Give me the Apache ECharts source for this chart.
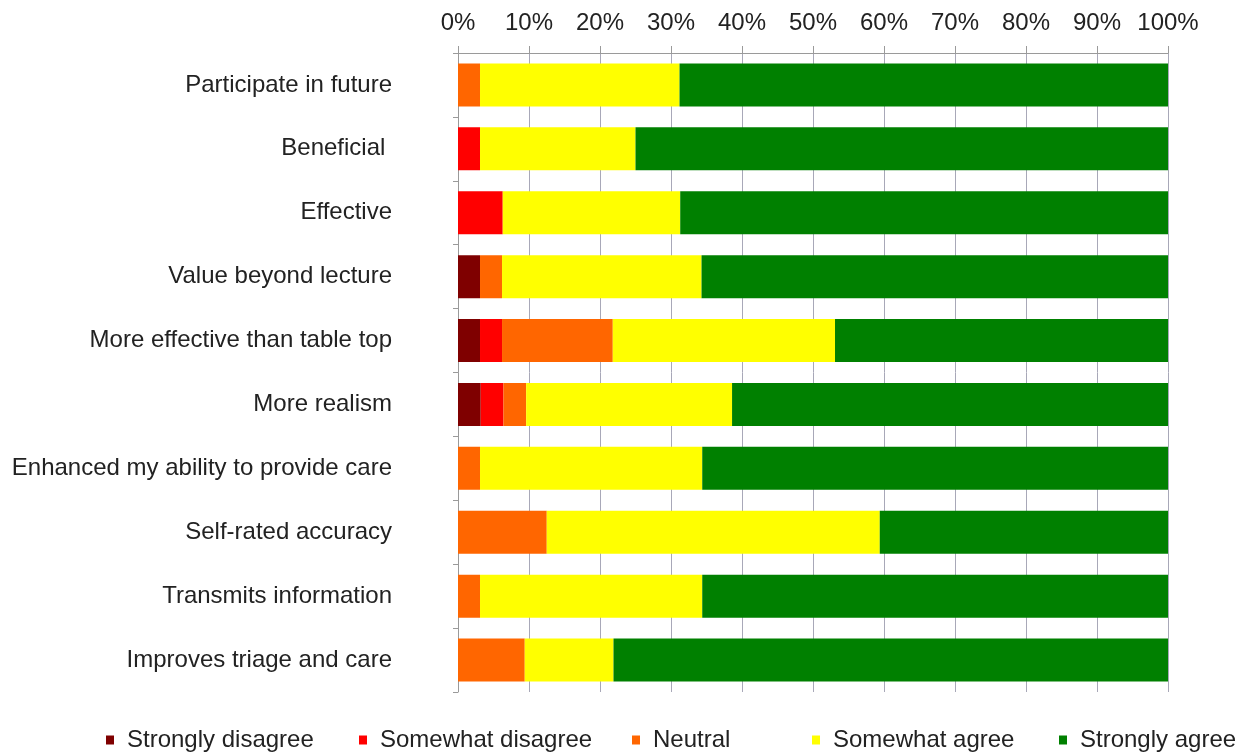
<!DOCTYPE html>
<html>
<head>
<meta charset="utf-8">
<script src="https://cdn.jsdelivr.net/npm/echarts@6/dist/echarts.min.js"></script>
<style>html,body{margin:0;padding:0;background:#fff;}#c{width:1243px;height:753px;}</style>
</head>
<body>
<div id="c"></div>
<script>
var categories = ["Participate in future", "Beneficial ", "Effective", "Value beyond lecture", "More effective than table top", "More realism", "Enhanced my ability to provide care", "Self-rated accuracy", "Transmits information", "Improves triage and care"];
var seriesNames = ["Strongly disagree", "Somewhat disagree", "Neutral", "Somewhat agree", "Strongly agree"];
var stronglyDisagree = [0, 0, 0, 3.1, 3.1, 3.2, 0, 0, 0, 0];
var somewhatDisagree = [0, 3.1, 6.3, 0, 3.1, 3.2, 0, 0, 0, 0];
var neutral = [3.1, 0, 0, 3.1, 15.6, 3.2, 3.1, 12.5, 3.1, 9.4];
var somewhatAgree = [28.1, 21.9, 25.0, 28.1, 31.3, 29.0, 31.3, 46.9, 31.3, 12.5];
var stronglyAgree = [68.8, 75.0, 68.7, 65.7, 46.9, 61.4, 65.6, 40.6, 65.6, 78.1];
var tickValues = [0, 10, 20, 30, 40, 50, 60, 70, 80, 90, 100];

var colors = ["#7f0000", "#ff0000", "#ff6600", "#ffff00", "#008000"];
var allData = [stronglyDisagree, somewhatDisagree, neutral, somewhatAgree, stronglyAgree];
var legendLefts = [106, 359, 632, 812, 1059];

var chart = echarts.init(document.getElementById('c'), null, {renderer: 'canvas'});
var font = "'Liberation Sans', Arial, sans-serif";

var series = seriesNames.map(function (n, i) {
  return {
    name: n, type: 'bar', stack: 'total', barWidth: 43,
    itemStyle: {color: colors[i]},
    data: allData[i]
  };
});

var legends = seriesNames.map(function (n, i) {
  return {
    data: [n], left: legendLefts[i], top: 728, padding: 0,
    itemWidth: 8, itemHeight: 9, icon: 'rect',
    selectedMode: false,
    textStyle: {fontFamily: font, fontSize: 24, color: '#222', padding: [0, 0, 0, 8]}
  };
});

chart.setOption({
  animation: false,
  color: colors,
  legend: legends,
  grid: {left: 458, right: 75, top: 53, bottom: 61, containLabel: false},
  xAxis: {
    type: 'value', position: 'top', min: 0, max: 100, interval: 10,
    axisLine: {show: true, lineStyle: {color: '#9a9a9a', width: 1}},
    axisTick: {show: true, length: 7, lineStyle: {color: '#9a9a9a'}},
    splitLine: {show: true, lineStyle: {color: '#a8a8b8', width: 1}},
    axisLabel: {formatter: function (v) { return tickValues.indexOf(v) >= 0 ? v + '%' : ''; }, fontFamily: font, fontSize: 24, color: '#222', margin: 18}
  },
  yAxis: {
    type: 'category', inverse: true, data: categories,
    axisLine: {show: true, lineStyle: {color: '#9a9a9a', width: 1}},
    axisTick: {show: true, length: 5, lineStyle: {color: '#9a9a9a'}},
    axisLabel: {fontFamily: font, fontSize: 24, color: '#222', margin: 66, padding: [3, 0, 0, 0]}
  },
  series: series
});
</script>
</body>
</html>
